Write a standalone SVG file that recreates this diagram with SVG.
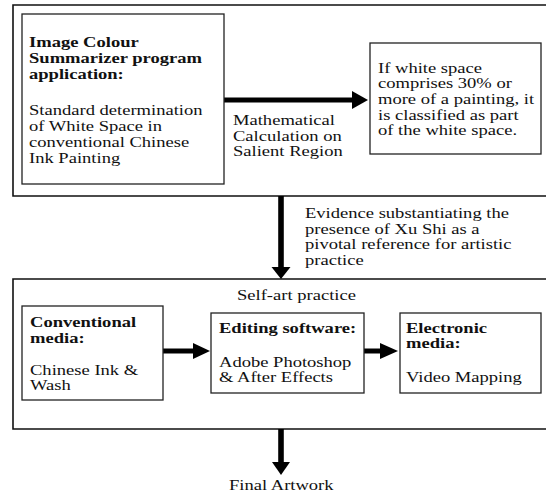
<svg xmlns="http://www.w3.org/2000/svg" width="546" height="494" viewBox="0 0 546 494">
<style>
  .frame { fill: none; stroke: #111; stroke-width: 1.6; }
  .box { fill: #fff; stroke: #222; stroke-width: 1.3; }
  .t { font-family: "Liberation Serif", "Times New Roman", serif; font-size: 14.5px; fill: #111; }
  .b { font-weight: bold; }
  .shaft { stroke: #000; stroke-width: 5; fill: none; }
  .head { fill: #000; }
</style>
<rect width="546" height="494" fill="#fff"/>

<g id="frame-top">
  <path class="frame" d="M560,5 H13 V196 H560"/>
</g>
<g id="frame-bottom">
  <path class="frame" d="M560,279 H13 V429 H560"/>
  <text class="t" transform="translate(237 0) scale(1.28 1)"><tspan x="0" y="300">Self-art practice</tspan></text>
</g>

<g id="connectors">
  <line class="shaft" x1="224" y1="100" x2="354" y2="100"/>
  <polygon class="head" points="352,91 368,100 352,109"/>
  <line class="shaft" x1="281" y1="196" x2="281" y2="268" style="stroke-width:5.6"/>
  <polygon class="head" points="271.5,267 290.5,267 281,279"/>
  <line class="shaft" x1="163" y1="351" x2="195" y2="351"/>
  <polygon class="head" points="193,343 210,351 193,359"/>
  <line class="shaft" x1="364" y1="351" x2="382" y2="351"/>
  <polygon class="head" points="380,343 398,351 380,359"/>
  <line class="shaft" x1="281" y1="429" x2="281" y2="463" style="stroke-width:5.6"/>
  <polygon class="head" points="272,462 290,462 281,475"/>
  <text class="t" transform="translate(233 0) scale(1.28 1)"><tspan x="0" y="125">Mathematical</tspan><tspan x="0" y="141">Calculation on</tspan><tspan x="0" y="156">Salient Region</tspan></text>
  <text class="t" transform="translate(305 0) scale(1.28 1)"><tspan x="0" y="218">Evidence substantiating the</tspan><tspan x="0" y="234">presence of Xu Shi as a</tspan><tspan x="0" y="249">pivotal reference for artistic</tspan><tspan x="0" y="265">practice</tspan></text>
</g>

<g id="node-summarizer">
  <rect class="box" x="22" y="14" width="202" height="170"/>
  <text class="t b" transform="translate(29 0) scale(1.28 1)"><tspan x="0" y="47.5">Image Colour</tspan><tspan x="0" y="63.5">Summarizer program</tspan><tspan x="0" y="79.5">application:</tspan></text>
  <text class="t" transform="translate(29 0) scale(1.28 1)"><tspan x="0" y="115">Standard determination</tspan><tspan x="0" y="131">of White Space in</tspan><tspan x="0" y="147">conventional Chinese</tspan><tspan x="0" y="163">Ink Painting</tspan></text>
</g>

<g id="node-whitespace">
  <rect class="box" x="370" y="43" width="171" height="111"/>
  <text class="t" transform="translate(378 0) scale(1.28 1)"><tspan x="0" y="73">If white space</tspan><tspan x="0" y="88.5">comprises 30% or</tspan><tspan x="0" y="104">more of a painting, it</tspan><tspan x="0" y="120">is classified as part</tspan><tspan x="0" y="135.5">of the white space.</tspan></text>
</g>

<g id="node-conventional">
  <rect class="box" x="22" y="306" width="141" height="94"/>
  <text class="t b" transform="translate(30 0) scale(1.28 1)"><tspan x="0" y="327">Conventional</tspan><tspan x="0" y="343">media:</tspan></text>
  <text class="t" transform="translate(30 0) scale(1.28 1)"><tspan x="0" y="375">Chinese Ink &amp;</tspan><tspan x="0" y="390.5">Wash</tspan></text>
</g>

<g id="node-editing">
  <rect class="box" x="211" y="313" width="153" height="80"/>
  <text class="t b" transform="translate(219 0) scale(1.28 1)"><tspan x="0" y="333.5">Editing software:</tspan></text>
  <text class="t" transform="translate(219 0) scale(1.28 1)"><tspan x="0" y="367">Adobe Photoshop</tspan><tspan x="0" y="382.5">&amp; After Effects</tspan></text>
</g>

<g id="node-electronic">
  <rect class="box" x="400" y="313" width="141" height="80"/>
  <text class="t b" transform="translate(406 0) scale(1.28 1)"><tspan x="0" y="333">Electronic</tspan><tspan x="0" y="348.5">media:</tspan></text>
  <text class="t" transform="translate(406 0) scale(1.28 1)"><tspan x="0" y="382.5">Video Mapping</tspan></text>
</g>

<g id="node-final">
  <text class="t" transform="translate(229 0) scale(1.28 1)"><tspan x="0" y="490">Final Artwork</tspan></text>
</g>
</svg>
